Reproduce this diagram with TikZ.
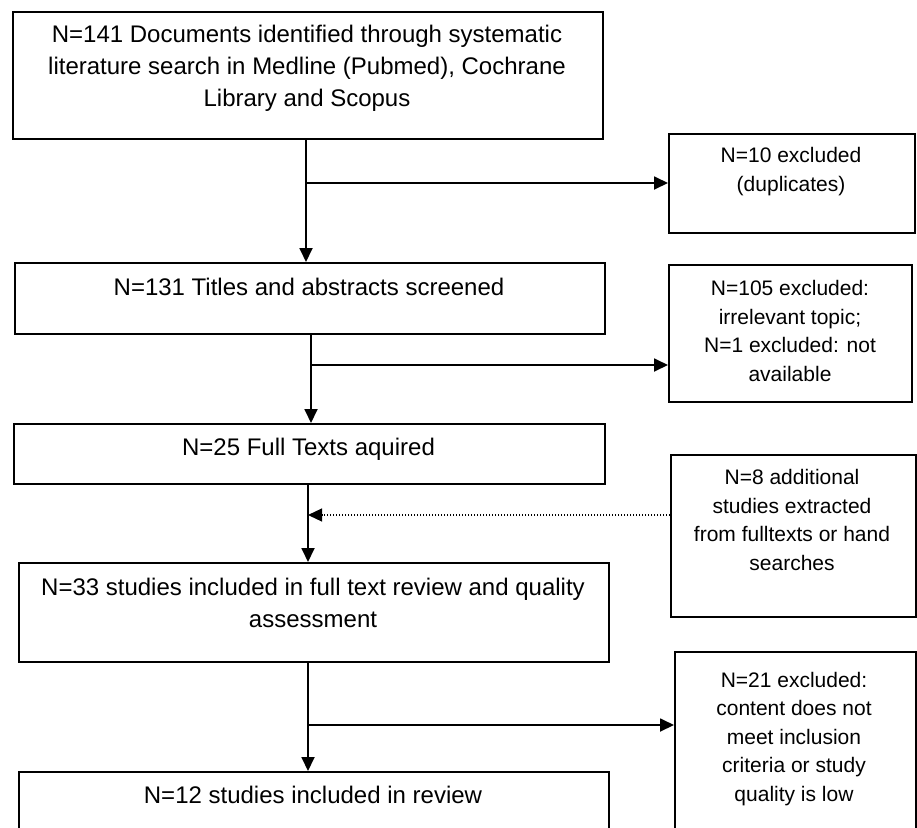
\documentclass[tikz,border=0pt]{standalone}
\usepackage{fontspec}
\setmainfont{Liberation Sans}
\usetikzlibrary{arrows.meta}
\begin{document}
\begin{tikzpicture}[x=1pt,y=-1pt,
        box/.style={draw,line width=1.8pt,inner sep=0pt,anchor=north west},
        txtmain/.style={anchor=center,align=center,inner sep=0pt,font=\fontsize{24}{32}\selectfont},
        txtside/.style={anchor=center,align=center,inner sep=0pt,font=\fontsize{21}{28.5}\selectfont},
        flow/.style={line width=1.8pt,-{Triangle[length=14pt,width=13pt]}},
        extra/.style={line width=1.2pt,dash pattern=on 1.2pt off 1.8pt,-{Triangle[length=14pt,width=13pt]}}]
        \clip (0,0) rectangle (917,827);
        %% Boxes
        \node[box,minimum width=590pt,minimum height=127pt] (lit) at (12,11) {};
        \node[box,minimum width=590pt,minimum height=71pt] (screen) at (14,262) {};
        \node[box,minimum width=591pt,minimum height=60pt] (full) at (13,423) {};
        \node[box,minimum width=590pt,minimum height=99pt] (incl) at (18,562) {};
        \node[box,minimum width=590pt,minimum height=140pt] (review) at (18,771) {};
        \node[box,minimum width=246pt,minimum height=99pt] (dup) at (668,133) {};
        \node[box,minimum width=243pt,minimum height=137pt] (irrel) at (668,264) {};
        \node[box,minimum width=245pt,minimum height=162pt] (addit) at (670,454) {};
        \node[box,minimum width=241pt,minimum height=260pt] (crit) at (674,651) {};
        %% Texts
        \node[txtmain] (lit-t) at (307,68) {N=141 Documents identified through systematic\\literature search in Medline (Pubmed), Cochrane\\Library and Scopus};
        \node[txtmain] (screen-t) at (309,287) {N=131 Titles and abstracts screened};
        \node[txtmain] (full-t) at (308.5,449) {N=25 Full Texts aquired};
        \node[txtmain] (incl-t) at (313,603) {N=33 studies included in full text review and quality\\assessment};
        \node[txtmain] (review-t) at (313,795) {N=12 studies included in review};
        \node[txtside] (dup-t) at (791,171.5) {N=10 excluded\\(duplicates)};
        \node[txtside] (irrel-t) at (790,331) {N=105 excluded:\\irrelevant topic;\\N=1 excluded: not\\available};
        \node[txtside] (addit-t) at (792,520) {N=8 additional\\studies extracted\\from fulltexts or hand\\searches};
        \node[txtside] (crit-t) at (794,739) {N=21 excluded:\\content does not\\meet inclusion\\criteria or study\\quality is low};
        %% Arrows
        \coordinate (split1) at (306,183);
        \coordinate (split2) at (311,365);
        \coordinate (merge) at (308,515);
        \coordinate (split4) at (308,725);
        \draw[flow] (lit.south -| split1) -- (screen.north -| split1);
        \draw[flow] (split1) -- (split1 -| dup.west);
        \draw[flow] (screen.south -| split2) -- (full.north -| split2);
        \draw[flow] (split2) -- (split2 -| irrel.west);
        \draw[flow] (full.south -| merge) -- (incl.north -| merge);
        \draw[extra] (merge -| addit.west) -- (merge);
        \draw[flow] (incl.south -| split4) -- (review.north -| split4);
        \draw[flow] (split4) -- (split4 -| crit.west);
\end{tikzpicture}
\end{document}
